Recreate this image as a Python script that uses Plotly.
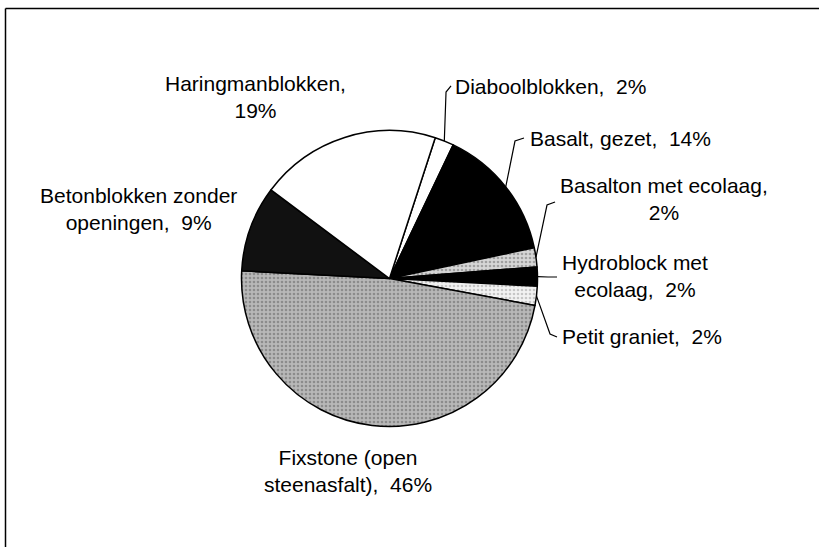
import numpy as np
import plotly.graph_objects as go

# Slices, clockwise from the Diaboolblokken slice (just right of 12 o'clock)
labels = ["Diaboolblokken", "Basalt, gezet", "Basalton met ecolaag",
          "Hydroblock met ecolaag", "Petit graniet", "Fixstone (open steenasfalt)",
          "Betonblokken zonder openingen", "Haringmanblokken"]
values = [2, 14, 2, 2, 2, 46, 9, 19]
label_fmt = ["Diaboolblokken,\u00a0 {}%", "Basalt, gezet,\u00a0 {}%",
             "Basalton met ecolaag,<br>{}%", "Hydroblock met<br>ecolaag,\u00a0 {}%",
             "Petit graniet,\u00a0 {}%", "Fixstone (open<br>steenasfalt),\u00a0 {}%",
             "Betonblokken zonder<br>openingen,\u00a0 {}%", "Haringmanblokken,<br>{}%"]

fill_colors = ["white", "black", "#d6d6d6", "black", "#f2f2f2", "#b8b8b8", "#111111", "white"]
pattern_shapes = ["", "", ".", "", ".", ".", "", ""]
pattern_fg = ["black", "black", "#6a6a6a", "black", "#9a9a9a", "#606060", "#555555", "black"]

W, H = 819, 547
FONT = "Liberation Sans, Arial, sans-serif"

# pie geometry in pixels
CX, CY, R = 389.5, 278.5, 148
ROTATION = 18


def px(x, y):
    # pixels -> paper coords
    return x / W, 1 - y / H


# label placement (px): anchor x, anchor y, xanchor, leader elbow, leader end
label_pos = [
    dict(x=453, y=86, xa="left", elbow=(446, 92), end=(451, 86)),
    dict(x=528, y=138, xa="left", elbow=(515, 141), end=(524, 138)),
    dict(x=664, y=199, xa="center", elbow=(547, 205), end=(555, 202)),
    dict(x=635, y=276, xa="center", elbow=(548, 277), end=(557, 277)),
    dict(x=560, y=336, xa="left", elbow=(550, 334), end=(557, 337)),
    dict(x=348, y=471, xa="center", elbow=None, end=None),
    dict(x=138, y=209, xa="center", elbow=None, end=None),
    dict(x=255, y=97, xa="center", elbow=None, end=None),
]

fig = go.Figure()

x0, y1 = px(CX - R, CY - R)
x1, y0 = px(CX + R, CY + R)
fig.add_trace(go.Pie(
    labels=labels,
    values=values,
    sort=False,
    direction="clockwise",
    rotation=ROTATION,
    textinfo="none",
    hoverinfo="label+value",
    domain=dict(x=[x0, x1], y=[y0, y1]),
    marker=dict(
        colors=fill_colors,
        line=dict(color="black", width=1.5),
        pattern=dict(shape=pattern_shapes, fgcolor=pattern_fg,
                     fillmode="overlay", size=4, solidity=0.35),
    ),
))

# outer frame of the chart area: only the left and top edges are in view
fx0, fy1 = px(5.5, 8.5)
frame = dict(color="black", width=1.5)
shapes = [
    dict(type="line", xref="paper", yref="paper", x0=fx0, x1=fx0, y0=-0.05, y1=fy1, line=frame),
    dict(type="line", xref="paper", yref="paper", x0=fx0, x1=1.05, y0=fy1, y1=fy1, line=frame),
]

annotations = []
total = sum(values)
cum = 0
for v, fmt, pos in zip(values, label_fmt, label_pos):
    mid = np.radians(ROTATION + (cum + v / 2) / total * 360)
    cum += v
    ax, ay = px(pos["x"], pos["y"])
    annotations.append(dict(
        x=ax, y=ay, xref="paper", yref="paper", xanchor=pos["xa"], yanchor="middle",
        align="center", showarrow=False, text=fmt.format(v),
        font=dict(family=FONT, size=21, color="black"),
    ))
    if pos["end"] is not None:
        sx, sy = CX + R * np.sin(mid), CY - R * np.cos(mid)
        path = "M {:.4f} {:.4f} L {:.4f} {:.4f} L {:.4f} {:.4f}".format(
            *px(sx, sy), *px(*pos["elbow"]), *px(*pos["end"]))
        shapes.append(dict(type="path", xref="paper", yref="paper", path=path,
                           line=dict(color="black", width=1.2)))

fig.update_layout(
    width=W, height=H,
    margin=dict(l=0, r=0, t=0, b=0),
    paper_bgcolor="white",
    plot_bgcolor="white",
    showlegend=False,
    shapes=shapes,
    annotations=annotations,
    font=dict(family=FONT, color="black"),
)

# drop the default page margin and scrollbars so the figure fills the window
fig.write_html("out.html", config={"displayModeBar": False},
               post_script="document.documentElement.style.overflow='hidden';"
                           "document.body.style.margin='0';"
                           "document.body.style.overflow='hidden';")
